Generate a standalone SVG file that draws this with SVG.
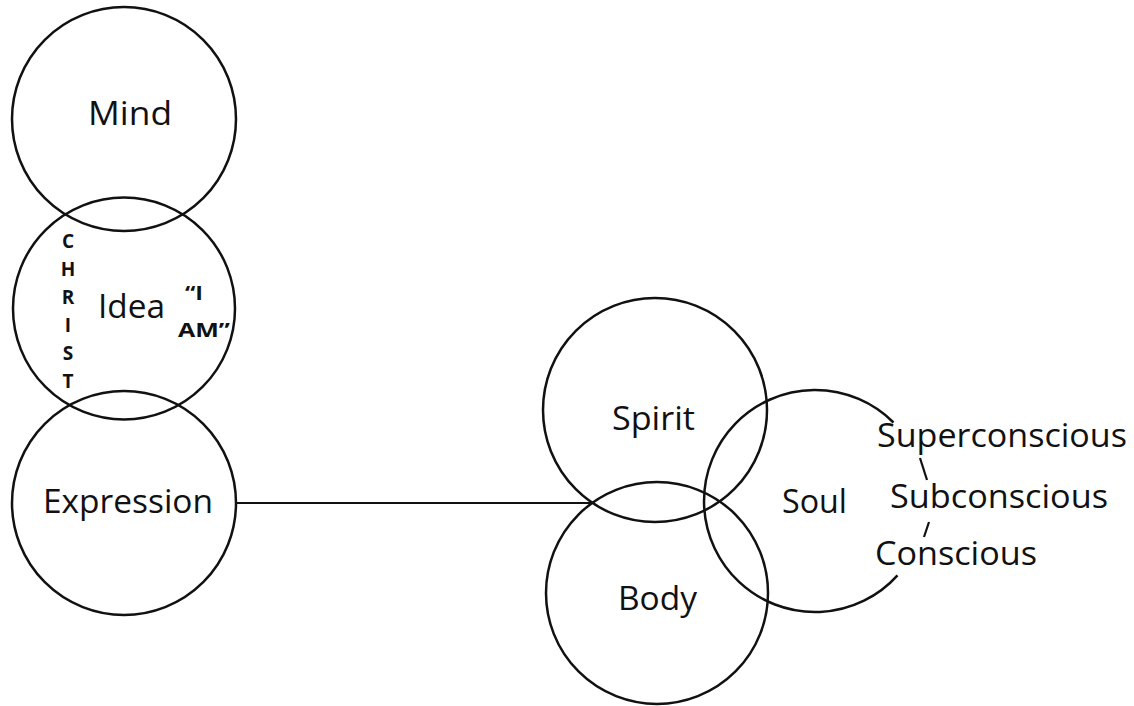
<svg xmlns="http://www.w3.org/2000/svg" width="1134" height="706" viewBox="0 0 1134 706">
<style>
.c{fill:none;stroke:#111;stroke-width:2.5}
.t{font-family:"Open Sans","Liberation Sans",sans-serif;font-size:32px;fill:#111}
.b{font-family:"Open Sans","Liberation Sans",sans-serif;font-size:19px;font-weight:bold;fill:#111;text-anchor:middle}
.q{font-family:"Open Sans","Liberation Sans",sans-serif;font-size:20px;font-weight:bold;fill:#111}
.l{fill:none;stroke:#111;stroke-width:2.2}
</style>
<rect width="1134" height="706" fill="#fff"/>
<g id="connectors">
<line class="l" x1="237" y1="503" x2="594" y2="503"/>
</g>
<g id="mind">
<circle class="c" cx="124" cy="119" r="112"/>
<text class="t" x="88" y="125" textLength="84" lengthAdjust="spacingAndGlyphs">Mind</text>
</g>
<g id="idea">
<circle class="c" cx="124" cy="308.5" r="111"/>
<text class="t" x="98" y="318" textLength="67" lengthAdjust="spacingAndGlyphs">Idea</text>
<g id="christ">
<text class="b" x="68" y="248">C</text>
<text class="b" x="68" y="276">H</text>
<text class="b" x="68" y="304">R</text>
<text class="b" x="68" y="332">I</text>
<text class="b" x="68" y="360">S</text>
<text class="b" x="68" y="388">T</text>
</g>
<g id="iam">
<text class="q" x="185" y="300" textLength="18" lengthAdjust="spacingAndGlyphs">“I</text>
<text class="q" x="178" y="337" textLength="52" lengthAdjust="spacingAndGlyphs">AM”</text>
</g>
</g>
<g id="expression">
<circle class="c" cx="124" cy="503" r="112"/>
<text class="t" x="43" y="513" textLength="170" lengthAdjust="spacingAndGlyphs">Expression</text>
</g>
<g id="spirit">
<circle class="c" cx="655" cy="410" r="112"/>
<text class="t" x="612" y="430" textLength="83" lengthAdjust="spacingAndGlyphs">Spirit</text>
</g>
<g id="body">
<circle class="c" cx="657" cy="593" r="111"/>
<text class="t" x="618" y="610" textLength="79" lengthAdjust="spacingAndGlyphs">Body</text>
</g>
<g id="soul">
<path class="c" d="M 893.5 422.5 A 111 111 0 1 0 897.5 575.3"/>
<line class="l" x1="920" y1="458" x2="927" y2="480"/>
<line class="l" x1="929" y1="522" x2="924" y2="537"/>
<text class="t" x="782" y="513" textLength="65" lengthAdjust="spacingAndGlyphs">Soul</text>
<text class="t" x="877" y="447" textLength="250" lengthAdjust="spacingAndGlyphs">Superconscious</text>
<text class="t" x="890" y="508" textLength="218" lengthAdjust="spacingAndGlyphs">Subconscious</text>
<text class="t" x="875" y="565" textLength="162" lengthAdjust="spacingAndGlyphs">Conscious</text>
</g>
</svg>
